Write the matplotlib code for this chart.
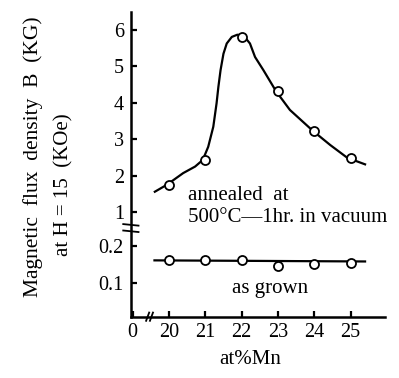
import numpy as np
import matplotlib
matplotlib.use('Agg')
import matplotlib.pyplot as plt

# measured points
mn = [20, 21, 22, 23, 24, 25]
b_annealed = [1.75, 2.43, 5.80, 4.31, 3.23, 2.49]
b_grown = [0.161, 0.161, 0.161, 0.145, 0.150, 0.153]

# hand-drawn guide curves
annealed_x = [19.61, 19.94, 20.39, 20.72, 20.93, 21.08, 21.22, 21.31, 21.36, 21.42,
              21.50, 21.59, 21.73, 21.88, 22.05, 22.23, 22.37, 22.60, 22.95, 23.33,
              23.96, 24.44, 24.91, 25.40]
annealed_y = [1.56, 1.75, 2.07, 2.25, 2.43, 2.79, 3.34, 3.98, 4.43, 4.89,
              5.34, 5.62, 5.80, 5.86, 5.84, 5.62, 5.25, 4.89, 4.31, 3.80,
              3.23, 2.84, 2.49, 2.31]
grown_x = [19.6, 25.4]
grown_y = [0.161, 0.158]

y_ticks = [0.1, 0.2, 1, 2, 3, 4, 5, 6]
y_ticklabels = ['0.1', '0.2', '1', '2', '3', '4', '5', '6']
x_ticks = [0, 20, 21, 22, 23, 24, 25]
x_ticklabels = ['0', '20', '21', '22', '23', '24', '25']

plt.rcParams['font.family'] = ['Liberation Serif', 'DejaVu Serif']


# broken axes: 0-0.25 stretched, 1-6 linear above it; x jumps from 0 to 19.5
def fwd_y(v):
    return np.interp(v, [-1, 0, 0.25, 1, 10], [-10, 0, 2.5, 2.93, 11.93])


def inv_y(u):
    return np.interp(u, [-10, 0, 2.5, 2.93, 11.93], [-1, 0, 0.25, 1, 10])


def fwd_x(x):
    return np.interp(x, [-1, 0, 19.5, 40], [18, 19, 19.5, 40])


def inv_x(u):
    return np.interp(u, [18, 19, 19.5, 40], [-1, 0, 19.5, 40])


fig = plt.figure(figsize=(3.99, 3.78), dpi=100)
ax = fig.add_axes([0.328, 0.161, 0.637, 0.807])
ax.set_xscale('function', functions=(fwd_x, inv_x))
ax.set_yscale('function', functions=(fwd_y, inv_y))

lw = 1.6
ax.plot(annealed_x, annealed_y, color='black', lw=lw, solid_joinstyle='round')
ax.plot(mn, b_annealed, 'o', ms=6.5, mfc='white', mec='black', mew=1.3)
ax.plot(grown_x, grown_y, color='black', lw=lw)
ax.plot(mn, b_grown, 'o', ms=6.5, mfc='white', mec='black', mew=1.3)

ax.set_xlim(-0.05, 25.95)
ax.set_ylim(0.0055, 6.48)

for s in ['top', 'right']:
    ax.spines[s].set_visible(False)
for s in ['left', 'bottom']:
    ax.spines[s].set_linewidth(1.8)

ax.set_yticks(y_ticks)
ax.set_yticklabels(y_ticklabels)
ax.set_xticks(x_ticks)
ax.set_xticklabels(x_ticklabels)
ax.minorticks_off()
ax.tick_params(axis='y', direction='in', length=4, width=1.6, pad=5, labelsize=14.5)
ax.tick_params(axis='x', direction='in', length=4, width=1.6, pad=4, labelsize=14.5)

# break marks on both axes
ax.plot([-0.03, 0.03], [0.305, 0.300], transform=ax.transAxes, color='black', lw=1.3, clip_on=False)
ax.plot([-0.03, 0.03], [0.284, 0.279], transform=ax.transAxes, color='black', lw=1.3, clip_on=False)
ax.plot([0.060, 0.072], [-0.012, 0.015], transform=ax.transAxes, color='black', lw=1.3, clip_on=False)
ax.plot([0.075, 0.087], [-0.012, 0.015], transform=ax.transAxes, color='black', lw=1.3, clip_on=False)

ax.text(20.52, 1.47, 'annealed  at', fontsize=15, va='center', ha='left')
ax.text(20.52, 0.756, '500°C—1hr. in vacuum', fontsize=15, va='center', ha='left')
ax.text(22.77, 0.085, 'as grown', fontsize=15, va='center', ha='center')

fig.text(33 / 399, 1 - 157 / 378, 'Magnetic  flux  density  B  (KG)', rotation=90,
         fontsize=15.5, ha='center', va='center')
fig.text(64 / 399, 1 - 185 / 378, 'at H = 15  (KOe)', rotation=90,
         fontsize=15, ha='center', va='center')
fig.text(250 / 399, 1 - 360 / 378, 'at%Mn', fontsize=15, ha='center', va='center')

fig.savefig('out.png', dpi=100)
